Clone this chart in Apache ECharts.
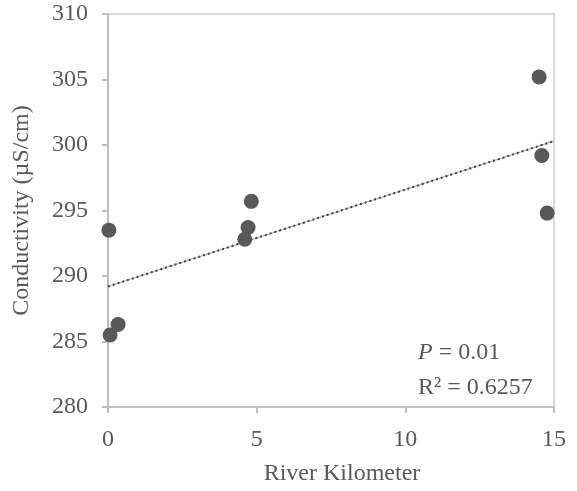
<!DOCTYPE html>
<html>
<head>
<meta charset="utf-8">
<script src="https://cdn.jsdelivr.net/npm/echarts@6/dist/echarts.min.js"></script>
<style>
html, body { margin: 0; padding: 0; background: #fff; }
#chart { width: 577px; height: 491px; }
</style>
</head>
<body>
<div id="chart"></div>
<script>
// river km / conductivity
var riverKm = [0.03, 0.07, 0.34, 4.6, 4.71, 4.82, 14.5, 14.59, 14.77];
var conductivity = [293.5, 285.5, 286.3, 292.8, 293.7, 295.7, 305.2, 299.2, 294.8];
// linear trend line ends
var trendKm = [0, 15];
var trendVal = [289.2, 300.3];

var font = '"Liberation Serif", "Times New Roman", serif';
var grey = '#595959';
var fs = 24;

var points = riverKm.map(function (x, i) { return [x, conductivity[i]]; });
var trend = trendKm.map(function (x, i) { return [x, trendVal[i]]; });

var myChart = echarts.init(document.getElementById('chart'));

var option = {
    backgroundColor: '#fff',
    animation: false,
    grid: {
        left: 108, right: 23, top: 14, bottom: 81,
        show: true,
        borderColor: '#d9d9d9',
        borderWidth: 2
    },
    xAxis: {
        type: 'value',
        min: 0, max: 15, interval: 5,
        name: 'River Kilometer',
        nameLocation: 'middle',
        nameGap: 55,
        nameTextStyle: { fontFamily: font, fontSize: fs, color: grey, padding: [0, 0, 0, 22] },
        axisLine: { show: true, onZero: false, lineStyle: { color: '#bfbfbf', width: 2 } },
        axisTick: { show: true, length: 6, lineStyle: { color: '#bfbfbf', width: 2 } },
        axisLabel: { fontFamily: font, fontSize: fs, color: grey, margin: 21 },
        splitLine: { show: false }
    },
    yAxis: {
        type: 'value',
        min: 280, max: 310, interval: 5,
        name: 'Conductivity (µS/cm)',
        nameLocation: 'middle',
        nameGap: 74,
        nameTextStyle: { fontFamily: font, fontSize: fs, color: grey },
        axisLine: { show: true, lineStyle: { color: '#bfbfbf', width: 2 } },
        axisTick: { show: true, length: 6, lineStyle: { color: '#bfbfbf', width: 2 } },
        axisLabel: { fontFamily: font, fontSize: fs, color: grey, margin: 20 },
        splitLine: { show: false }
    },
    series: [
        {
            type: 'line',
            data: trend,
            symbol: 'none',
            lineStyle: { color: '#a6a6a6', width: 1 },
            z: 2
        },
        {
            type: 'line',
            data: trend,
            symbol: 'none',
            lineStyle: { color: '#404040', width: 2, type: [2, 3] },
            z: 3
        },
        {
            type: 'scatter',
            data: points,
            symbolSize: 15,
            itemStyle: { color: grey, opacity: 1 },
            z: 4
        }
    ],
    graphic: [
        {
            type: 'text',
            left: 418, top: 341,
            style: {
                rich: {
                    i: { fontFamily: font, fontSize: fs, fontStyle: 'italic', fill: grey },
                    n: { fontFamily: font, fontSize: fs, fill: grey }
                },
                text: '{i|P}{n| = 0.01}'
            }
        },
        {
            type: 'text',
            left: 418, top: 376,
            style: {
                text: 'R² = 0.6257',
                fontFamily: font,
                fontSize: fs,
                fill: grey
            }
        }
    ]
};

myChart.setOption(option, true);
</script>
</body>
</html>
